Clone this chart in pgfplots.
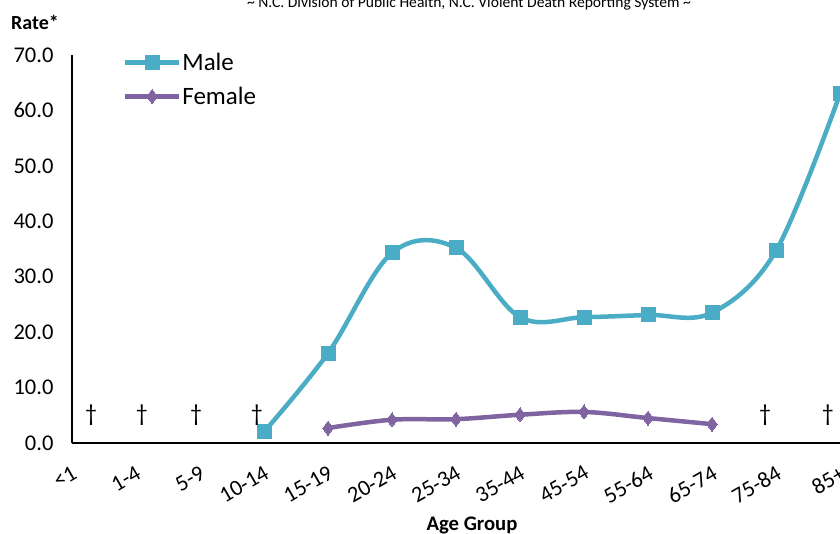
\documentclass[border=0pt]{standalone}
\usepackage{pgfplots}
\pgfplotsset{compat=1.18}
\usepackage{fontspec}
\setmainfont{Carlito}
\definecolor{maleblue}{HTML}{4BACC6}
\definecolor{femalepurple}{HTML}{8064A2}

\begin{document}
\begin{tikzpicture}
\begin{axis}[
    scale only axis,
    width=768pt, height=388pt,
    xmin=0, xmax=12, ymin=0, ymax=70,
    axis x line*=bottom, axis y line*=left,
    axis line style={line width=1.2pt, -},
    xtick={0,...,12},
    xticklabels={<1,1-4,5-9,10-14,15-19,20-24,25-34,35-44,45-54,55-64,65-74,75-84,85+},
    ytick={0,10,...,70},
    major tick length=0pt,
    ticklabel style={font=\fontsize{22.5}{26}\selectfont},
    /pgf/number format/assume math mode=true,
    yticklabel style={/pgf/number format/fixed, /pgf/number format/fixed zerofill,
        /pgf/number format/precision=1, xshift=-15pt},
    xticklabel style={rotate=30, anchor=north east, inner sep=0pt, xshift=-1pt},
    xticklabel shift=21pt,
    clip=false,
    legend style={at={(axis description cs:0.066,1.008)}, anchor=north west,
        draw=none, fill=none, inner sep=0pt, row sep=13pt,
        font=\fontsize{25}{28}\selectfont,
        nodes={inner sep=1pt}},
    legend cell align=left,
    legend image code/.code={
        \draw[#1, mark repeat=2, mark phase=2]
            plot coordinates {(0pt,0pt) (27pt,0pt) (54pt,0pt)};
    },
]
\addplot[color=maleblue, line width=4.5pt, smooth, tension=0.58,
    mark=square*, mark size=7pt, mark options={solid, line width=0pt}]
coordinates {
    (3,2.0) (4,16.2) (5,34.3) (6,35.2) (7,22.7) (8,22.7)
    (9,23.1) (10,23.5) (11,34.7) (12,63.0)
};
\addlegendentry{Male}
\addplot[color=femalepurple, line width=4.5pt, smooth, tension=0.58,
    mark=diamond*, mark size=7pt, mark options={solid, line width=0pt}]
coordinates {
    (4,2.7) (5,4.2) (6,4.3) (7,5.1) (8,5.6) (9,4.5) (10,3.4)
};
\addlegendentry{Female}
\addplot[only marks, mark=text, text mark={†}, text mark as node=true,
    text mark style={font=\fontsize{24}{26}\selectfont, text=black}, forget plot]
coordinates {
    (0.3,5.0) (1.09,5.0) (1.94,5.0) (2.89,5.0) (10.83,5.0) (11.81,5.0)
};
\end{axis}
\node[font=\fontsize{20}{24}\selectfont\bfseries] at (-37pt,421pt) {Rate*};
\node[font=\fontsize{20.7}{24}\selectfont\bfseries] at (400pt,-82pt) {Age Group};
\node[font=\fontsize{15.6}{18}\selectfont] at (397pt,440pt)
    {\textasciitilde\ N.C. Division of Public Health, N.C. Violent Death Reporting System \textasciitilde};
\pgfresetboundingbox
\useasboundingbox (-72pt,-90pt) rectangle (768pt,443pt);
\end{tikzpicture}
\end{document}
